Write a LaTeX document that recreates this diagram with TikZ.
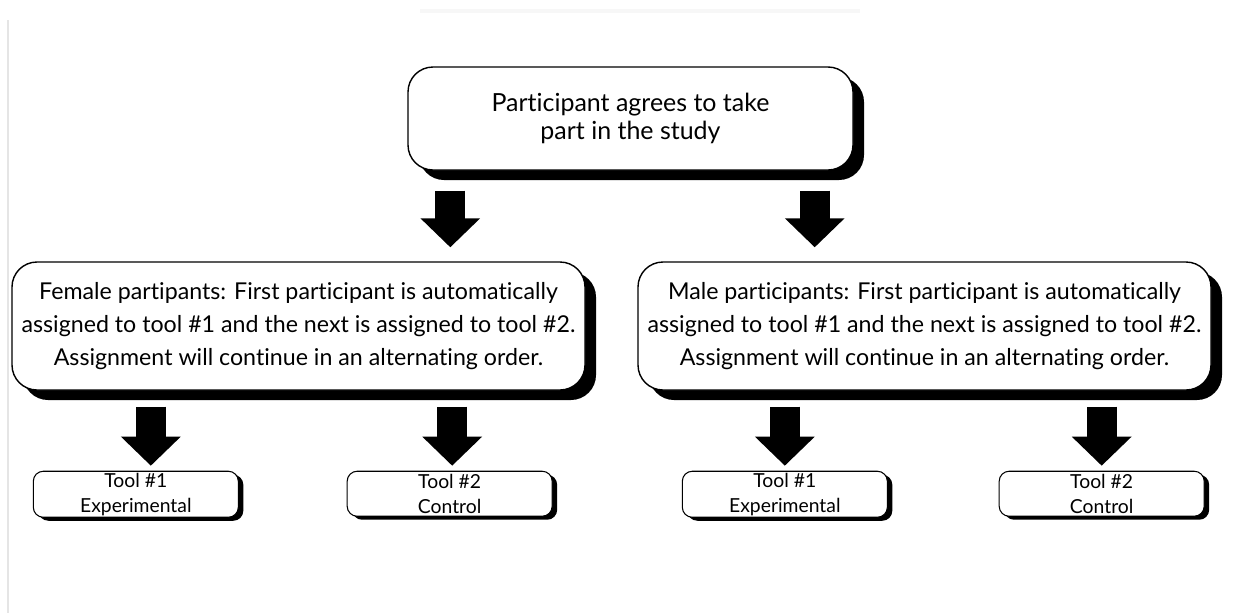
\documentclass[tikz,border=0pt]{standalone}
\usepackage{fontspec}
\setmainfont[RawFeature={-liga}]{Lato}
\usepackage{tikz}
\usetikzlibrary{shapes,arrows.meta,positioning,shadows}

\begin{document}
\begin{tikzpicture}[node distance=1.0cm, auto]
    % Define block styles
    \tikzstyle{bigblock} = [rectangle, draw, line width=0.8pt, fill=white, align=center, rounded corners=0.5cm, minimum width=11.46cm, minimum height=2.56cm, font=\fontsize{13.2}{18.7}\selectfont, drop shadow={shadow xshift=0.22cm, shadow yshift=-0.2cm, fill=black, opacity=1}]
    \tikzstyle{startblock} = [bigblock, minimum width=8.9cm, minimum height=2.06cm, font=\fontsize{14.2}{16.4}\selectfont]
    \tikzstyle{toolblock} = [rectangle, draw, line width=0.6pt, fill=white, align=center, rounded corners=0.2cm, minimum width=4.1cm, minimum height=0.9cm, inner sep=1pt, font=\fontsize{11}{14.2}\selectfont, drop shadow={shadow xshift=0.1cm, shadow yshift=-0.07cm, fill=black, opacity=1}]
    \tikzstyle{fatline} = [draw, line width=0.6cm, -{Triangle[width=1.16cm, length=0.58cm]}]

    % Frame
    \useasboundingbox (0,0) rectangle (25.06,-12.26);
    \draw [black!10, line width=0.8pt] (0.16,-0.4) -- (0.16,-12.26);
    \draw [black!3, line width=2pt] (8.4,-0.22) -- (17.2,-0.22);

    % Nodes
    \node [startblock] at (12.61,-2.37) (Participant) {Participant agrees to take\\part in the study};
    \node [bigblock] at (5.97,-6.52) (Female) {Female partipants: First participant is automatically\\assigned to tool \#1 and the next is assigned to tool \#2.\\Assignment will continue in an alternating order.};
    \node [bigblock] at (18.49,-6.52) (Male) {Male participants: First participant is automatically\\assigned to tool \#1 and the next is assigned to tool \#2.\\Assignment will continue in an alternating order.};
    \node [toolblock, below right=1.6cm and 0.43cm of Female.south west] (Female_Tool1) {Tool \#1\\Experimental};
    \node [toolblock, below left=1.6cm and 0.66cm of Female.south east] (Female_Tool2) {Tool \#2\\Control};
    \node [toolblock, below right=1.6cm and 0.89cm of Male.south west] (Male_Tool1) {Tool \#1\\Experimental};
    \node [toolblock, below left=1.6cm and 0.14cm of Male.south east] (Male_Tool2) {Tool \#2\\Control};

    % Arrows
    \coordinate (Left_Split) at ([xshift=0.86cm]Participant.south west);
    \coordinate (Right_Split) at ([xshift=-0.78cm]Participant.south east);
    \coordinate (Female_Exp) at ([xshift=0.3cm]Female_Tool1.north);
    \coordinate (Female_Ctl) at ([xshift=0.05cm]Female_Tool2.north);
    \path [fatline, shorten <=0.4cm, shorten >=0.28cm] (Left_Split) -- (Left_Split |- Female.north);
    \path [fatline, shorten <=0.4cm, shorten >=0.28cm] (Right_Split) -- (Right_Split |- Male.north);
    \path [fatline, shorten <=0.32cm, shorten >=0.1cm] (Female_Exp |- Female.south) -- (Female_Exp);
    \path [fatline, shorten <=0.32cm, shorten >=0.1cm] (Female_Ctl |- Female.south) -- (Female_Ctl);
    \path [fatline, shorten <=0.32cm, shorten >=0.1cm] (Male_Tool1.north |- Male.south) -- (Male_Tool1.north);
    \path [fatline, shorten <=0.32cm, shorten >=0.1cm] (Male_Tool2.north |- Male.south) -- (Male_Tool2.north);

  \end{tikzpicture}
\end{document}
